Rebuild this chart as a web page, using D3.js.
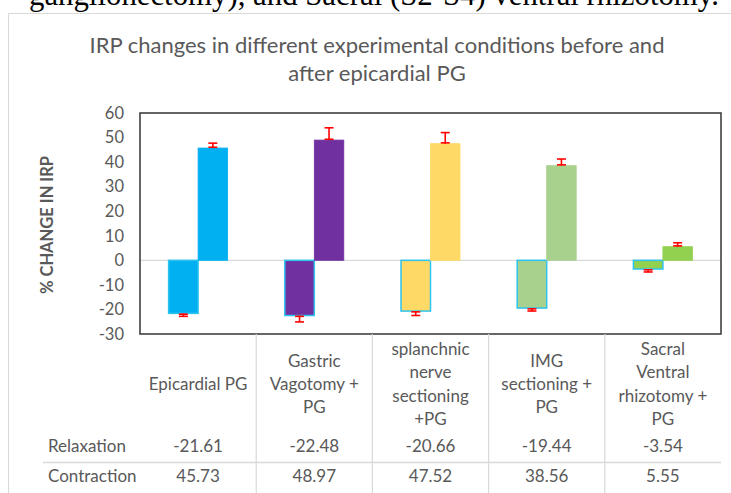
<!DOCTYPE html>
<html><head><meta charset="utf-8">
<script src="https://cdn.jsdelivr.net/npm/d3@7"></script>
<style>body{margin:0;background:#fff}svg{display:block}</style>
</head><body>
<script>
const categories = ["Epicardial PG","Gastric Vagotomy + PG","splanchnic nerve sectioning +PG","IMG sectioning + PG","Sacral Ventral rhizotomy + PG"];
const categoryLines = [["Epicardial PG"],["Gastric","Vagotomy +","PG"],["splanchnic","nerve","sectioning","+PG"],["IMG","sectioning +","PG"],["Sacral","Ventral","rhizotomy +","PG"]];
const relaxation = [-21.61,-22.48,-20.66,-19.44,-3.54];
const contraction = [45.73,48.97,47.52,38.56,5.55];
const relaxationErr = [1.2,2.6,1.8,1.2,1.2];
const contractionErr = [2.0,5.0,4.5,2.7,1.6];
const colors = ["#00B0F0","#7030A0","#FFD966","#A9D18E","#92D050"];
const yTicks = [60,50,40,30,20,10,0,-10,-20,-30];
const seriesNames = ["Relaxation","Contraction"];

(function(){
const W=731,H=493;
const svg=d3.select("body").append("svg").attr("width",W).attr("height",H);
const font="Lato, 'Open Sans', sans-serif";

svg.append("text").attr("x",29).attr("y",5).attr("font-family","'Liberation Serif', serif")
  .attr("font-size",30.8).attr("fill","#000").text("ganglionectomy), and Sacral (S2-S4) ventral rhizotomy.");

svg.append("rect").attr("x",8.5).attr("y",13.5).attr("width",740).attr("height",500)
  .attr("fill","#fff").attr("stroke","#d9d9d9").attr("stroke-width",1);

const title=["IRP changes in different experimental conditions before and","after epicardial PG"];
svg.append("g").selectAll("text").data(title).join("text")
  .attr("x",377).attr("y",(d,i)=>53+i*28).attr("text-anchor","middle")
  .attr("font-family",font).attr("font-size",22).attr("fill","#595959").text(d=>d);

const pL=140,pR=721,pT=113,pB=334;
const y=d3.scaleLinear().domain([-30,60]).range([pB,pT]);
const x=d3.scaleBand().domain(categories).range([pL,pR]);
const xi=d3.scaleBand().domain(seriesNames).range([28.6,x.bandwidth()-28.6]);

const yAxis=d3.axisLeft(y).tickValues(yTicks).tickSize(0).tickPadding(16).tickFormat(d=>String(d));
const ga=svg.append("g").attr("transform",`translate(${pL},0)`).call(yAxis);
ga.select(".domain").remove();
ga.selectAll("text").attr("font-family",font).attr("font-size",16.5).attr("fill","#595959");

svg.append("text").attr("transform","translate(53,225) rotate(-90)").attr("text-anchor","middle")
  .attr("font-family",font).attr("font-weight","bold").attr("font-size",16.5).attr("fill","#595959")
  .text("% CHANGE IN IRP");

svg.append("line").attr("x1",pL).attr("x2",pR).attr("y1",y(0)).attr("y2",y(0))
  .attr("stroke","#d9d9d9").attr("stroke-width",1.2);

const rows=categories.map((c,i)=>({c,i}));
const g=svg.append("g");
g.selectAll("rect.rel").data(rows).join("rect").attr("class","rel")
  .attr("x",d=>x(d.c)+xi("Relaxation")).attr("width",xi.bandwidth())
  .attr("y",y(0)).attr("height",d=>y(relaxation[d.i])-y(0))
  .attr("fill",d=>colors[d.i]).attr("stroke","#2EC4F0").attr("stroke-width",1.5);
g.selectAll("rect.con").data(rows).join("rect").attr("class","con")
  .attr("x",d=>x(d.c)+xi("Contraction")).attr("width",xi.bandwidth())
  .attr("y",d=>y(contraction[d.i])).attr("height",d=>y(0)-y(contraction[d.i]))
  .attr("fill",d=>colors[d.i]).attr("stroke",d=>colors[d.i]).attr("stroke-width",0.8);

function errBar(series,vals,errs,dir){
  const cx=d=>x(d.c)+xi(series)+xi.bandwidth()/2;
  const eg=g.append("g").attr("stroke","#FF0000").attr("stroke-width",1.6);
  eg.selectAll("line.v").data(rows).join("line").attr("class","v")
    .attr("x1",cx).attr("x2",cx).attr("y1",d=>y(vals[d.i])).attr("y2",d=>y(vals[d.i]+dir*errs[d.i]));
  eg.selectAll("line.c1").data(rows).join("line").attr("class","c1")
    .attr("x1",d=>cx(d)-4.5).attr("x2",d=>cx(d)+4.5).attr("y1",d=>y(vals[d.i]+dir*errs[d.i])).attr("y2",d=>y(vals[d.i]+dir*errs[d.i]));
  eg.selectAll("line.c2").data(rows).join("line").attr("class","c2")
    .attr("x1",d=>cx(d)-4.5).attr("x2",d=>cx(d)+4.5).attr("y1",d=>y(vals[d.i])-dir*0.8).attr("y2",d=>y(vals[d.i])-dir*0.8);
}
errBar("Relaxation",relaxation,relaxationErr,-1);
errBar("Contraction",contraction,contractionErr,1);

svg.append("rect").attr("x",pL).attr("y",pT).attr("width",pR-pL).attr("height",pB-pT)
  .attr("fill","none").attr("stroke","#404040").attr("stroke-width",1.6);

const tg=svg.append("g");
const fs=17;
tg.selectAll("line.sep").data(categories.slice(1)).join("line").attr("class","sep")
  .attr("x1",d=>x(d)).attr("x2",d=>x(d)).attr("y1",pB).attr("y2",H)
  .attr("stroke","#d9d9d9").attr("stroke-width",1.2);
tg.append("line").attr("x1",43).attr("x2",pR).attr("y1",462.5).attr("y2",462.5)
  .attr("stroke","#d9d9d9").attr("stroke-width",1.5);
rows.forEach(d=>{
  const lines=categoryLines[d.i];
  const cy=384, lh=23.3;
  tg.append("g").selectAll("text").data(lines).join("text")
    .attr("x",x(d.c)+x.bandwidth()/2).attr("y",(t,k)=>cy+(k-(lines.length-1)/2)*lh)
    .attr("dy","0.35em").attr("text-anchor","middle")
    .attr("font-family",font).attr("font-size",fs).attr("fill","#595959").text(t=>t);
  tg.append("text").attr("x",x(d.c)+x.bandwidth()/2).attr("y",446).attr("dy","0.35em")
    .attr("text-anchor","middle").attr("font-family",font).attr("font-size",fs).attr("fill","#595959")
    .text(relaxation[d.i].toFixed(2));
  tg.append("text").attr("x",x(d.c)+x.bandwidth()/2).attr("y",476).attr("dy","0.35em")
    .attr("text-anchor","middle").attr("font-family",font).attr("font-size",fs).attr("fill","#595959")
    .text(contraction[d.i].toFixed(2));
});
tg.selectAll("text.rowname").data(seriesNames).join("text").attr("class","rowname")
  .attr("x",48).attr("y",(d,i)=>446+i*30).attr("dy","0.35em")
  .attr("font-family",font).attr("font-size",fs).attr("fill","#595959").text(d=>d);
})();
</script>
</body></html>
